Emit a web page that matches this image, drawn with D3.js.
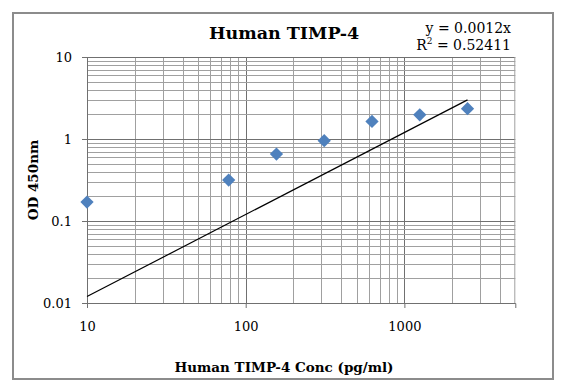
<!DOCTYPE html>
<html>
<head>
<meta charset="utf-8">
<script src="https://cdn.jsdelivr.net/npm/d3@7"></script>
<style>
  body { margin: 0; background: #fff; }
  text { font-family: "DejaVu Serif", "Liberation Serif", serif; fill: #000; }
</style>
</head>
<body>
<svg id="id_svg"></svg>
<script>
width = 567
height = 391

// standard concentrations (pg/ml) and OD readings
conc = [10, 78.125, 156.25, 312.5, 625, 1250, 2500]
od = [0.17, 0.316, 0.655, 0.955, 1.64, 1.97, 2.34]
slope = 0.0012
trendX = [10, 2500]
xTicks = [10, 100, 1000]
yTicks = [0.01, 0.1, 1, 10]
xDomain = [10, 5000]
yDomain = [0.01, 10]

chart = function() {
    const margin = { left: 87, right: 51.7, top: 57, bottom: 88 };

    const svg = d3.select("#id_svg")
        .attr("width", width)
        .attr("height", height)
        .attr("viewBox", [0, 0, width, height]);

    const x = d3.scaleLog().domain(xDomain).range([margin.left, width - margin.right]);
    const y = d3.scaleLog().domain(yDomain).range([height - margin.bottom, margin.top]);

    // outer chart border
    svg.append("rect")
        .attr("x", 13).attr("y", 13)
        .attr("width", 540).attr("height", 366)
        .attr("fill", "#fff")
        .attr("stroke", "#8c8c8c")
        .attr("stroke-width", 2);

    // minor + major gridlines
    const xGrid = x.ticks().filter(d => d > xDomain[0] && d < xDomain[1]);
    const yGrid = y.ticks().filter(d => d > yDomain[0] && d < yDomain[1]);

    svg.append("g")
        .selectAll("line")
        .data(xGrid)
        .join("line")
        .attr("x1", d => Math.round(x(d)) + 0.5).attr("x2", d => Math.round(x(d)) + 0.5)
        .attr("y1", y(yDomain[0])).attr("y2", y(yDomain[1]))
        .attr("stroke", d => xTicks.includes(d) ? "#707070" : "#a0a0a0")
        .attr("stroke-width", 1);

    svg.append("g")
        .selectAll("line")
        .data(yGrid)
        .join("line")
        .attr("x1", x(xDomain[0])).attr("x2", x(xDomain[1]))
        .attr("y1", d => Math.round(y(d)) + 0.5).attr("y2", d => Math.round(y(d)) + 0.5)
        .attr("stroke", d => yTicks.includes(d) ? "#707070" : "#a0a0a0")
        .attr("stroke-width", 1);

    // top and right edges
    svg.append("line")
        .attr("x1", x(xDomain[0])).attr("x2", x(xDomain[1]))
        .attr("y1", y(yDomain[1]) + 0.5).attr("y2", y(yDomain[1]) + 0.5)
        .attr("stroke", "#707070");
    svg.append("line")
        .attr("x1", x(xDomain[1]) - 0.5).attr("x2", x(xDomain[1]) - 0.5)
        .attr("y1", y(yDomain[0])).attr("y2", y(yDomain[1]))
        .attr("stroke", "#a0a0a0");

    // axes
    const xAxis = svg.append("g")
        .attr("transform", `translate(0,${y(yDomain[0])})`)
        .call(d3.axisBottom(x).tickValues(xTicks).tickFormat(d3.format("d")).tickSize(5).tickPadding(14));
    const yAxis = svg.append("g")
        .attr("transform", `translate(${x(xDomain[0])},0)`)
        .call(d3.axisLeft(y).tickValues(yTicks).tickFormat(d => String(d)).tickSize(5).tickPadding(10));

    for (const a of [xAxis, yAxis]) {
        a.select(".domain").attr("stroke", "#707070");
        a.selectAll(".tick line").attr("stroke", "#707070");
        a.selectAll(".tick text").attr("font-size", 13).attr("font-family", "DejaVu Serif");
    }

    // trendline
    svg.append("line")
        .attr("x1", x(trendX[0])).attr("y1", y(slope * trendX[0]))
        .attr("x2", x(trendX[1])).attr("y2", y(slope * trendX[1]))
        .attr("stroke", "#000")
        .attr("stroke-width", 1.2);

    // markers
    svg.append("g")
        .selectAll("path")
        .data(conc.map((c, i) => [c, od[i]]))
        .join("path")
        .attr("d", d3.symbol(d3.symbolSquare, 88))
        .attr("transform", d => `translate(${x(d[0])},${y(d[1])}) rotate(45)`)
        .attr("fill", "#4f81bd");

    // titles
    svg.append("text")
        .attr("x", 284).attr("y", 39)
        .attr("text-anchor", "middle")
        .attr("font-size", 17.5).attr("font-weight", "bold")
        .text("Human TIMP-4");

    const eq = svg.append("text")
        .attr("x", 511).attr("y", 33)
        .attr("text-anchor", "end")
        .attr("font-size", 14)
        .text("y = 0.0012x");
    const r2 = svg.append("text").attr("x", 511).attr("y", 50).attr("text-anchor", "end").attr("font-size", 14);
    r2.append("tspan").text("R");
    r2.append("tspan").attr("font-size", 9).attr("dy", -6).text("2");
    r2.append("tspan").attr("dy", 6).text(" = 0.52411");

    svg.append("text")
        .attr("x", 284).attr("y", 372)
        .attr("text-anchor", "middle")
        .attr("font-size", 13.5).attr("font-weight", "bold")
        .text("Human TIMP-4 Conc (pg/ml)");

    svg.append("text")
        .attr("transform", `translate(38,${(y(yDomain[0]) + y(yDomain[1])) / 2}) rotate(-90)`)
        .attr("text-anchor", "middle")
        .attr("font-size", 13.5).attr("font-weight", "bold")
        .text("OD 450nm");

    return svg.node();
}
chart()
</script>
</body>
</html>
